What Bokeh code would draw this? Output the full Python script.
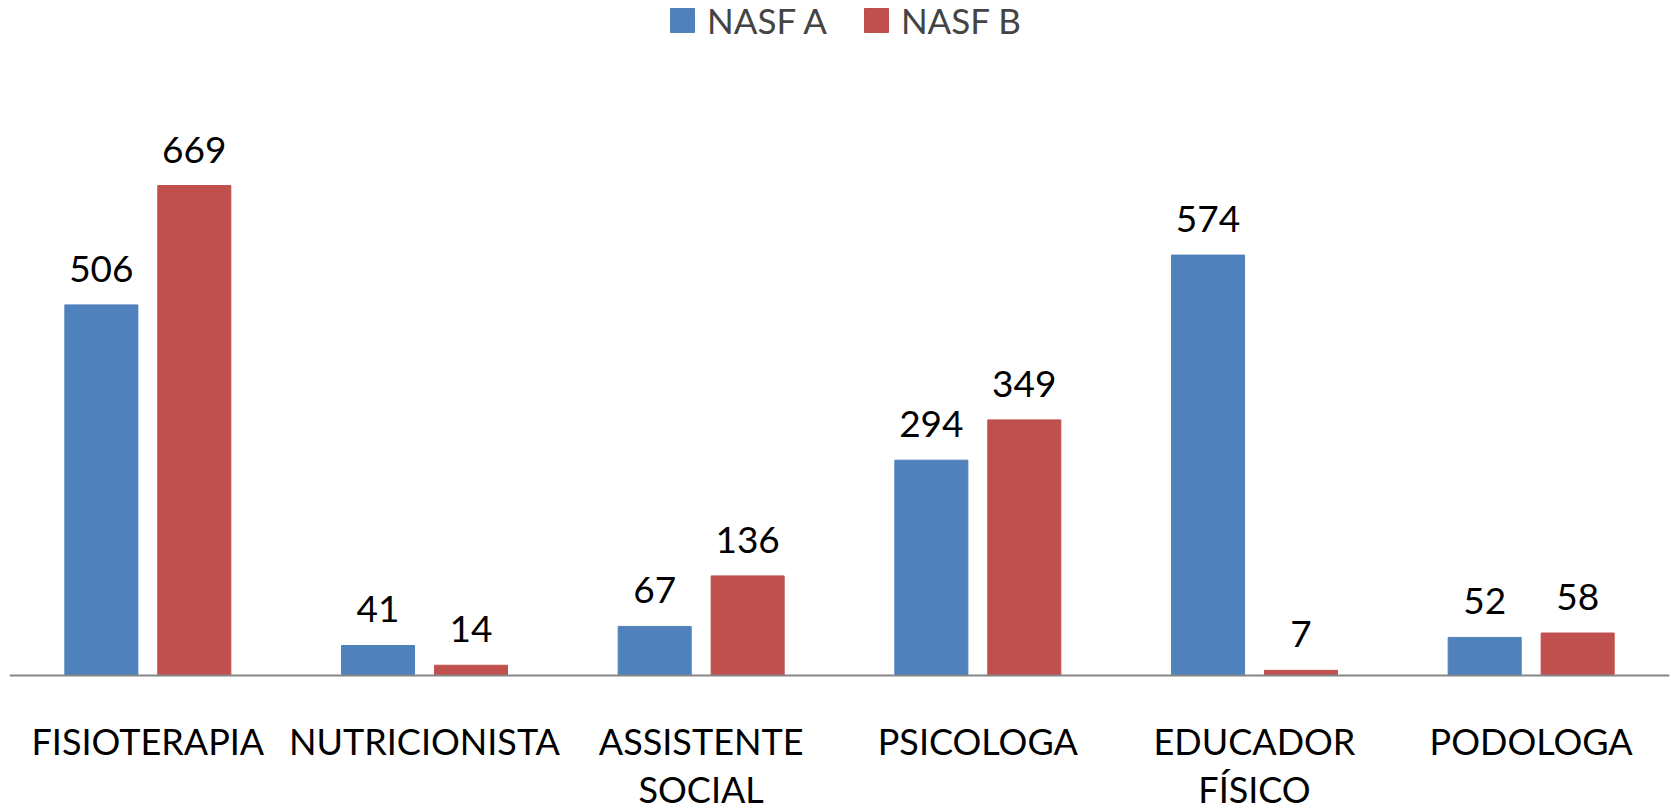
from bokeh.plotting import figure
from bokeh.models import (ColumnDataSource, FactorRange, Range1d, Legend, LegendItem,
                          LabelSet, Span)
from bokeh.core.properties import value
from bokeh.transform import dodge
from bokeh.embed import file_html
from bokeh.resources import INLINE

categories = ["FISIOTERAPIA", "NUTRICIONISTA", "ASSISTENTE\nSOCIAL",
              "PSICOLOGA", "EDUCADOR\nFÍSICO", "PODOLOGA"]
nasf_a = [506, 41, 67, 294, 574, 52]
nasf_b = [669, 14, 136, 349, 7, 58]
series_names = ["NASF A", "NASF B"]

BLUE = "#4F81BD"
RED = "#C0504D"
FONT = "Lato"

line1 = [c.split("\n")[0] for c in categories]
wrapped = [c for c in categories if "\n" in c]
line2 = [c.split("\n")[1] for c in wrapped]

src = ColumnDataSource(dict(
    cat=categories, a=nasf_a, b=nasf_b, zero=[0] * len(categories), l1=line1,
    a_txt=[str(v) for v in nasf_a], b_txt=[str(v) for v in nasf_b]))
src2 = ColumnDataSource(dict(cat=wrapped, zero=[0] * len(wrapped), l2=line2))

# frame spans the whole height; the area below zero holds the category labels
p = figure(x_range=FactorRange(*categories), y_range=Range1d(-187.06, 910.7),
           width=1671, height=812, output_backend="svg", toolbar_location=None,
           min_border_left=9, min_border_right=2, min_border_top=8,
           min_border_bottom=0)
p.outline_line_color = None
p.grid.visible = False
p.xaxis.visible = False
p.yaxis.visible = False
p.background_fill_color = "white"

off = 0.168
w = 0.264
ra = p.vbar(x=dodge("cat", -off, range=p.x_range), top="a", width=w, source=src,
            fill_color=BLUE, line_color=BLUE)
rb = p.vbar(x=dodge("cat", off, range=p.x_range), top="b", width=w, source=src,
            fill_color=RED, line_color=RED)

# category axis line
p.add_layout(Span(location=0, dimension="width", line_color="#868686", line_width=2))

for col, txt, o in (("a", "a_txt", -off), ("b", "b_txt", off)):
    lbl = LabelSet(x=dodge("cat", o, range=p.x_range), y=col, text=txt, source=src,
                   text_align="center", text_baseline="alphabetic", y_offset=23,
                   text_font=value(FONT), text_font_size="37px", text_color="black")
    p.add_layout(lbl)

# category labels under the axis line, positioned by the categorical scale
p.add_layout(LabelSet(x="cat", y="zero", text="l1", source=src,
                      text_align="center", text_baseline="alphabetic",
                      y_offset=-80, text_font=value(FONT),
                      text_font_size="36px", text_color="black"))
p.add_layout(LabelSet(x="cat", y="zero", text="l2", source=src2,
                      text_align="center", text_baseline="alphabetic",
                      y_offset=-128, text_font=value(FONT),
                      text_font_size="36px", text_color="black"))

legend = Legend(items=[LegendItem(label=series_names[0], renderers=[ra]),
                       LegendItem(label=series_names[1], renderers=[rb])],
                orientation="horizontal", location=(658, 771),
                glyph_width=30, glyph_height=30, label_standoff=10, spacing=34,
                padding=0, margin=0, border_line_color=None,
                background_fill_alpha=0,
                label_text_font=FONT, label_text_font_size="35px",
                label_height=30)
p.add_layout(legend)

open("out.html", "w").write(file_html(p, INLINE))
